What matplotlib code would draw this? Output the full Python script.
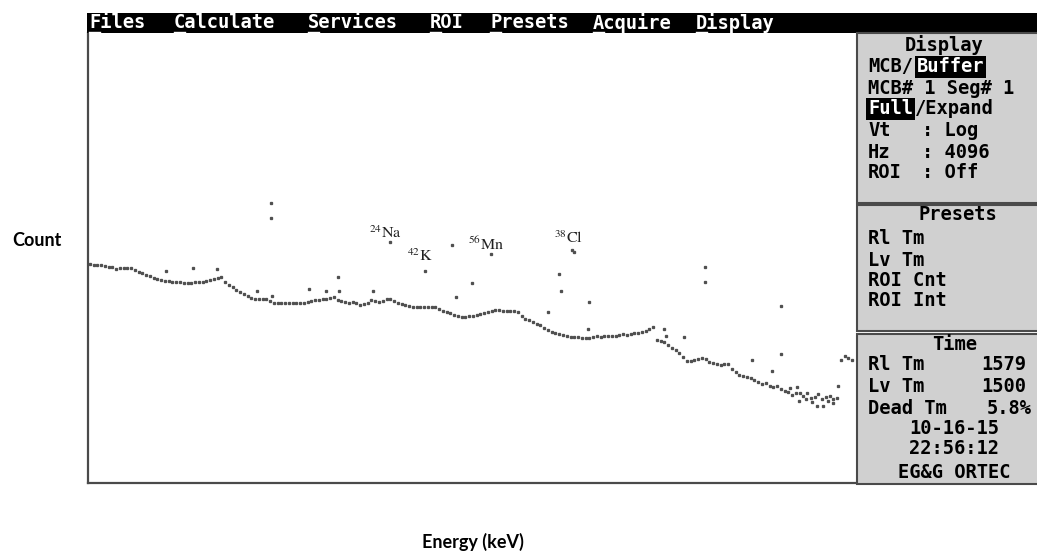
import matplotlib
matplotlib.use("Agg")
import numpy as np
from matplotlib import pyplot as plt
from matplotlib.patches import Rectangle
from matplotlib.lines import Line2D

plt.rcParams['mathtext.fontset'] = 'stix'

# spectrum trace: one point every 20 channels, starting at channel 10 (log counts display)
trace_start = 10
trace_step = 20
trace_counts = [
    2712, 2643, 2643, 2643, 2576, 2512, 2512, 2385, 2448, 2448,
    2448, 2448, 2325, 2210, 2154, 2047, 1995, 1896, 1848, 1801,
    1755, 1755, 1711, 1711, 1711, 1668, 1668, 1668, 1711, 1711,
    1711, 1755, 1801, 1848, 1896, 1945, 1711, 1585, 1506, 1394,
    1325, 1259, 1196, 1136, 1108, 1108, 1108, 1108, 1052, 1000,
    1000, 1000, 1000, 1000, 1000, 1000, 1000, 1000, 1026, 1052,
    1080, 1080, 1108, 1108, 1136, 1166, 1080, 1052, 1026, 1000,
    1026, 1000, 950, 975, 1000, 1080, 1052, 1026, 1052, 1108,
    1108, 1052, 1000, 975, 950, 926, 903, 903, 903, 903,
    903, 903, 903, 858, 815, 794, 774, 736, 717, 699,
    699, 717, 717, 736, 755, 774, 794, 815, 836, 836,
    815, 815, 815, 815, 794, 717, 664, 647, 615, 584,
    570, 527, 501, 476, 464, 452, 441, 430, 419, 419,
    419, 409, 409, 409, 419, 430, 419, 430, 430, 430,
    430, 441, 452, 441, 452, 464, 464, 476, 489, 514,
    541, 388, 378, 369, 341, 316, 300, 278, 251, 227,
    227, 233, 239, 245, 239, 221, 215, 210, 205, 210,
    210, 185, 171, 158, 154, 151, 147, 139, 132, 126,
    129, 120, 117, 120, 111, 105, 103, 95, 100, 100,
    93, 100, 88, 90, 97, 86, 90, 93, 86, 88,
    233, 258, 245, 233,
]

# isolated points off the trace
spike_channels = [415, 559, 687, 975, 975, 900, 980, 1177, 1268, 1332,
                  1337, 1518, 1609, 1795, 1939, 1960, 2045, 2146, 2450, 2509,
                  2519, 2578, 2589, 2668, 2663, 3286, 3286, 3691, 3691, 3068,
                  3078, 3174, 3537, 3995, 3883, 3915, 3643, 3739, 3787, 3824,
                  3856, 3941, 3968, 3776]
spike_counts = [2267, 2448, 2385, 12915, 8799, 1359, 1196, 1430, 1359, 1945,
                1359, 1359, 4762, 2267, 4411, 1166, 1668, 3503, 794, 2100,
                1359, 3881, 3700, 1026, 514, 2512, 1711, 926, 271, 514,
                430, 419, 233, 120, 72, 72, 176, 114, 81, 86,
                79, 81, 77, 117]

peak_labels = [r'$^{24}$Na', r'$^{42}$K', r'$^{56}$Mn', r'$^{38}$Cl']
peak_label_channels = [1582, 1768, 2120, 2562]
peak_label_counts = [5995, 3330, 4525, 5276]

menu_items = ["Files", "Calculate", "Services", "ROI", "Presets", "Acquire", "Display"]
menu_x = [89, 174, 308, 430, 490, 593, 696]

W, H = 1037, 554
fig = plt.figure(figsize=(W / 100, H / 100), dpi=100)


def fx(x):
    return x / W


def fy(y):
    return 1 - y / H


ax = fig.add_axes([fx(88), fy(483), fx(857) - fx(88), fy(33) - fy(483)])
channels = trace_start + trace_step * np.arange(len(trace_counts))
ax.plot(channels, trace_counts, ls='none', marker='s', ms=1.4, mec='#505050', mfc='#505050')
ax.plot(spike_channels, spike_counts, ls='none', marker='s', ms=1.4, mec='#505050', mfc='#505050')
for lab, c, n in zip(peak_labels, peak_label_channels, peak_label_counts):
    ax.text(c, n, lab, family='STIXGeneral', fontsize=11.5, ha='center', va='center', color='#222222')
ax.set_yscale('log')
ax.set_xlim(0, 4096)
ax.set_ylim(10, 1e6)
ax.set_xticks([])
ax.set_yticks([])
ax.minorticks_off()
for s in ['top', 'right']:
    ax.spines[s].set_visible(False)
for s in ['left', 'bottom']:
    ax.spines[s].set_color('#4a4a4a')
    ax.spines[s].set_linewidth(1.6)

fig.text(fx(473), fy(542), 'Energy (keV)', fontsize=13, fontweight='bold', family='Lato',
         ha='center', va='center')
fig.text(fx(37), fy(241), 'Count', fontsize=13, fontweight='bold', family='Lato', ha='center', va='center')

# menu bar
fig.patches.append(Rectangle((fx(87), fy(33)), 1 - fx(87), fy(13) - fy(33), transform=fig.transFigure,
                             facecolor='black', edgecolor='none'))
mono = dict(family='DejaVu Sans Mono', fontweight='bold', fontsize=13.5, va='center')
for item, x in zip(menu_items, menu_x):
    fig.text(fx(x), fy(23), item, color='white', ha='left', **mono)
    fig.lines.append(Line2D([fx(x), fx(x + 11)], [fy(31.5), fy(31.5)], transform=fig.transFigure,
                            color='white', lw=1))

# side panels
for top, bottom in [(33, 203), (205, 331), (334, 484)]:
    fig.patches.append(Rectangle((fx(857), fy(bottom)), 1.01 - fx(857), fy(top) - fy(bottom),
                                 transform=fig.transFigure, facecolor='#d0d0d0',
                                 edgecolor='#4a4a4a', lw=1.5))

inv = dict(color='white', bbox=dict(facecolor='black', edgecolor='none', pad=1.2))
fig.text(fx(905), fy(45), 'Display', ha='left', **mono)
fig.text(fx(868), fy(67), 'MCB/', ha='left', **mono)
fig.text(fx(917), fy(67), 'Buffer', ha='left', **mono, **inv)
fig.text(fx(868), fy(88), 'MCB# 1 Seg# 1', ha='left', **mono)
fig.text(fx(868), fy(109), 'Full', ha='left', **mono, **inv)
fig.text(fx(915), fy(109), '/Expand', ha='left', **mono)
for y, lab, val in [(130, 'Vt', ': Log'), (152, 'Hz', ': 4096'), (173, 'ROI', ': Off')]:
    fig.text(fx(868), fy(y), lab, ha='left', **mono)
    fig.text(fx(922), fy(y), val, ha='left', **mono)

fig.text(fx(918), fy(215), 'Presets', ha='left', **mono)
for y, lab in [(239, 'Rl Tm'), (260, 'Lv Tm'), (280, 'ROI Cnt'), (300, 'ROI Int')]:
    fig.text(fx(868), fy(y), lab, ha='left', **mono)

fig.text(fx(932), fy(344), 'Time', ha='left', **mono)
fig.text(fx(868), fy(365), 'Rl Tm', ha='left', **mono)
fig.text(fx(1026), fy(365), '1579', ha='right', **mono)
fig.text(fx(868), fy(387), 'Lv Tm', ha='left', **mono)
fig.text(fx(1026), fy(387), '1500', ha='right', **mono)
fig.text(fx(868), fy(408), 'Dead Tm', ha='left', **mono)
fig.text(fx(987), fy(408), '5.8%', ha='left', **mono)
fig.text(fx(954), fy(429), '10-16-15', ha='center', **mono)
fig.text(fx(954), fy(449), '22:56:12', ha='center', **mono)
fig.text(fx(954), fy(472), 'EG&G ORTEC', ha='center', **mono)

fig.savefig('out.png', dpi=100)
